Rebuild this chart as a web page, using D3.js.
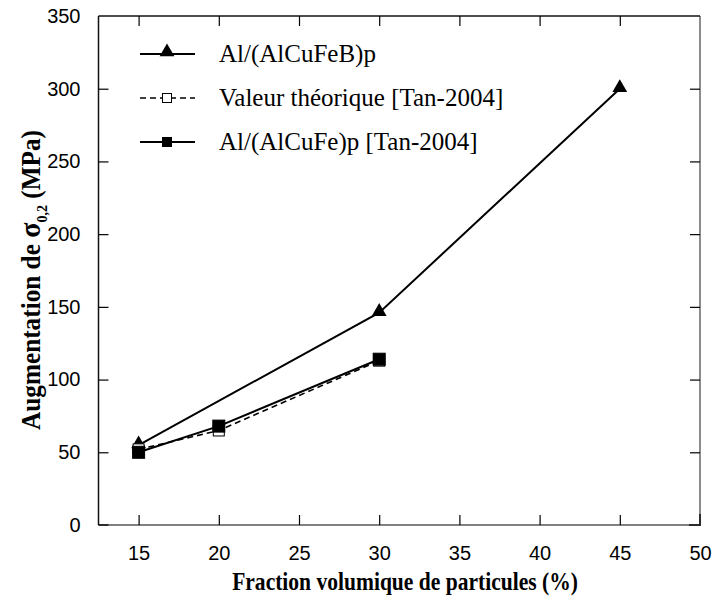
<!DOCTYPE html>
<html><head><meta charset="utf-8">
<script src="https://cdn.jsdelivr.net/npm/d3@7"></script>
<style>body{margin:0;background:#fff}</style>
</head><body>
<svg id="c" width="712" height="599"></svg>
<script>
const xTicks = [15,20,25,30,35,40,45,50];
const yTicks = [0,50,100,150,200,250,300,350];
const seriesNames = ["Al/(AlCuFeB)p","Valeur théorique [Tan-2004]","Al/(AlCuFe)p [Tan-2004]"];
const xAlCuFeB = [15,30,45];
const yAlCuFeB = [55,146,300];
const xTheo = [15,20,30];
const yTheo = [52,65,113];
const xAlCuFe = [15,20,30];
const yAlCuFe = [50,68,114];

const svg = d3.select("#c");
const L=98.5,R=700,T=16,B=525;
const x = d3.scaleLinear().domain([12.5,50]).range([L,R]);
const y = d3.scaleLinear().domain([0,350]).range([B,T]);

const serif="Liberation Serif";
const sans="Liberation Sans";

// frame
const gray="#808080";
svg.append("line").attr("x1",L).attr("x2",R).attr("y1",B).attr("y2",B).attr("stroke",gray).attr("stroke-width",1.8);
svg.append("line").attr("x1",R).attr("x2",R).attr("y1",T).attr("y2",B).attr("stroke",gray).attr("stroke-width",1.8);
svg.append("line").attr("x1",L).attr("x2",L+10).attr("y1",B).attr("y2",B).attr("stroke","#222").attr("stroke-width",1.8);
svg.append("line").attr("x1",R-11).attr("x2",R).attr("y1",B).attr("y2",B).attr("stroke","#222").attr("stroke-width",1.8);
svg.append("line").attr("x1",R).attr("x2",R).attr("y1",B-11).attr("y2",B+0.9).attr("stroke","#222").attr("stroke-width",1.8);
svg.append("line").attr("x1",L).attr("x2",R).attr("y1",T).attr("y2",T).attr("stroke","#111").attr("stroke-width",1.5);
svg.append("line").attr("x1",L).attr("x2",L).attr("y1",T).attr("y2",B).attr("stroke","#111").attr("stroke-width",1.5);

const tl=10;
const gx = svg.append("g").attr("transform",`translate(0,${B})`)
  .call(d3.axisBottom(x).tickValues(xTicks).tickSize(-tl).tickPadding(21).tickFormat(d3.format("d")));
const gxt = svg.append("g").attr("transform",`translate(0,${T})`)
  .call(d3.axisTop(x).tickValues(xTicks).tickSize(-tl).tickFormat(""));
const gy = svg.append("g").attr("transform",`translate(${L},0)`)
  .call(d3.axisLeft(y).tickValues(yTicks).tickSize(-tl).tickPadding(18).tickFormat(d3.format("d")));
const gyr = svg.append("g").attr("transform",`translate(${R},0)`)
  .call(d3.axisRight(y).tickValues(yTicks).tickSize(-tl).tickFormat(""));
[gx,gxt,gy,gyr].forEach(g=>{
  g.select(".domain").remove();
  g.selectAll(".tick line").attr("stroke","#000").attr("stroke-width",1.2);
  g.selectAll("text").attr("font-family",sans).attr("font-size",20).attr("fill","#000");
});
// drop ticks that coincide with the frame corners
gx.selectAll(".tick").filter(d=>d===50).select("line").remove();
gxt.selectAll(".tick").filter(d=>d===50).remove();
gy.selectAll(".tick").filter(d=>d===0||d===350).select("line").remove();
gyr.selectAll(".tick").filter(d=>d===0||d===350).remove();

// series
const line = d3.line().x(d=>x(d[0])).y(d=>y(d[1]));
function pts(xs,ys){return xs.map((v,i)=>[v,ys[i]]);}
const s1=pts(xAlCuFeB,yAlCuFeB), s2=pts(xTheo,yTheo), s3=pts(xAlCuFe,yAlCuFe);

svg.append("path").datum(s2).attr("d",line).attr("fill","none").attr("stroke","#000")
  .attr("stroke-width",1.6).attr("stroke-dasharray","6,4");
svg.append("path").datum(s1).attr("d",line).attr("fill","none").attr("stroke","#000").attr("stroke-width",2);
svg.append("path").datum(s3).attr("d",line).attr("fill","none").attr("stroke","#000").attr("stroke-width",2);

const tri = d3.symbol().type(d3.symbolTriangle).size(95);
function triangles(g,data){
  g.selectAll(null).data(data).enter().append("path").attr("d",tri)
   .attr("transform",d=>`translate(${x(d[0])},${y(d[1])-1})`).attr("fill","#000");
}
function squares(g,data,filled,s){
  g.selectAll(null).data(data).enter().append("rect")
   .attr("x",d=>x(d[0])-s/2).attr("y",d=>y(d[1])-s/2).attr("width",s).attr("height",s)
   .attr("fill",filled?"#000":"#fff").attr("stroke","#000").attr("stroke-width",1);
}
triangles(svg,s1);
squares(svg,s2,false,11);
squares(svg,s3,true,12);

// legend
const lx1=140,lx2=195,lm=167;
const legY=[54,98,142];
svg.append("line").attr("x1",lx1).attr("x2",lx2).attr("y1",legY[0]).attr("y2",legY[0]).attr("stroke","#000").attr("stroke-width",2);
svg.append("path").attr("d",tri).attr("transform",`translate(${lm},${legY[0]-2})`).attr("fill","#000");
svg.append("line").attr("x1",lx1).attr("x2",lx2).attr("y1",legY[1]).attr("y2",legY[1]).attr("stroke","#000").attr("stroke-width",1.6).attr("stroke-dasharray","6,4");
svg.append("rect").attr("x",lm-4.5).attr("y",legY[1]-4.5).attr("width",9).attr("height",9).attr("fill","#fff").attr("stroke","#000");
svg.append("line").attr("x1",lx1).attr("x2",lx2).attr("y1",legY[2]).attr("y2",legY[2]).attr("stroke","#000").attr("stroke-width",2);
svg.append("rect").attr("x",lm-5).attr("y",legY[2]-5).attr("width",10).attr("height",10).attr("fill","#000");
seriesNames.forEach((n,i)=>{
  svg.append("text").attr("x",219).attr("y",legY[i]+8).attr("font-family",serif).attr("font-size",25).text(n);
});

// axis titles (condensed bold serif)
function fitX(t,target){
  const w=t.node().getBBox().width;
  return target/w;
}
const xt = svg.append("text").attr("text-anchor","middle")
  .attr("font-family",serif).attr("font-size",26).attr("font-weight","bold")
  .text("Fraction volumique de particules (%)");
const sx = fitX(xt,346);
xt.attr("transform",`translate(405,590) scale(${sx},1)`);

const yt = svg.append("text").attr("text-anchor","middle")
  .attr("font-family",serif).attr("font-size",27).attr("font-weight","bold");
yt.append("tspan").text("Augmentation de ");
yt.append("tspan").text("σ").attr("font-size",30);
yt.append("tspan").text("0,2").attr("font-size",15).attr("dy",7);
yt.append("tspan").text(" (MPa)").attr("dy",-7);
const sy = fitX(yt,300);
yt.attr("transform",`translate(40,280) rotate(-90) scale(${sy},1)`);
</script>
</body></html>
